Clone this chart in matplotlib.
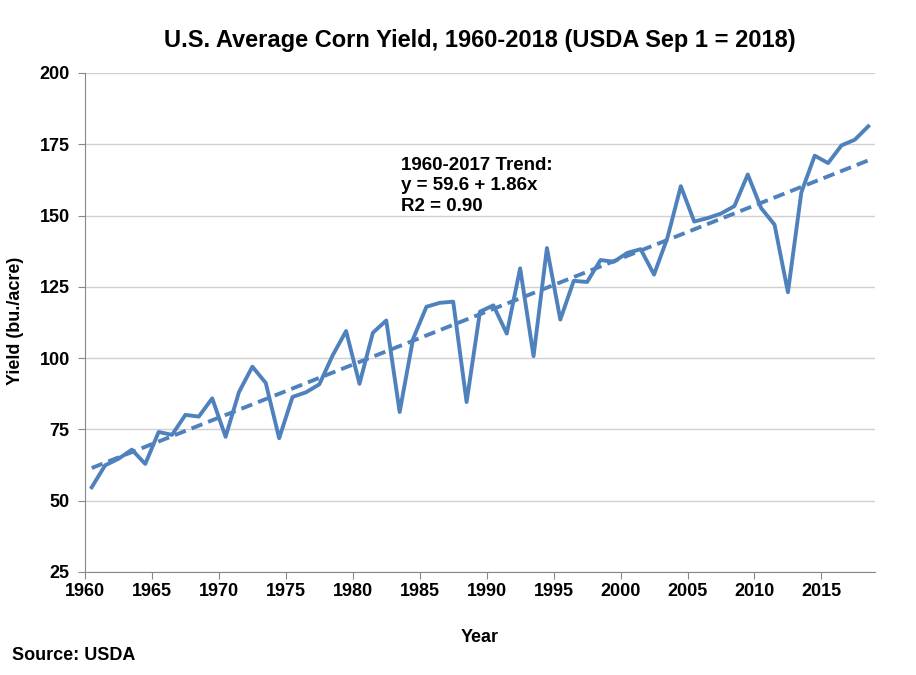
import matplotlib
matplotlib.use("Agg")
import matplotlib.pyplot as plt
import numpy as np

plt.rcParams['font.family'] = ['Liberation Sans', 'DejaVu Sans']
plt.rcParams['font.weight'] = 'bold'

# US corn yield, bu/acre
years = np.arange(1960, 2019)
yields = [54.7, 62.4, 64.7, 67.9, 62.9, 74.1, 73.1, 80.1, 79.5, 85.9,
          72.4, 88.1, 97.0, 91.3, 71.9, 86.4, 88.0, 90.8, 101.0, 109.5,
          91.0, 108.9, 113.2, 81.1, 106.7, 118.0, 119.4, 119.8, 84.6, 116.3,
          118.5, 108.6, 131.5, 100.7, 138.6, 113.5, 127.1, 126.7, 134.4, 133.8,
          136.9, 138.2, 129.3, 142.2, 160.3, 147.9, 149.1, 150.7, 153.3, 164.4,
          152.6, 146.8, 123.1, 158.1, 171.0, 168.4, 174.6, 176.6, 181.3]
trend_a = 59.6
trend_b = 1.86
xticks = list(range(1960, 2020, 5))
yticks = [25, 50, 75, 100, 125, 150, 175, 200]

blue = '#4F81BD'

fig = plt.figure(figsize=(9.16, 6.75), dpi=100)
ax = fig.add_axes([0.0928, 0.1526, 0.8624, 0.7393])

# excel draws the points in the middle of each year slot
xpos = years + 0.5
trend = trend_a + trend_b * (years - 1959)
ax.plot(xpos, trend, color=blue, lw=2.8, ls=(0, (3.0, 1.6)))
ax.plot(xpos, yields, color=blue, lw=2.8)

ax.set_xlim(1960, 2019)
ax.set_ylim(25, 200)
ax.set_xticks(xticks)
ax.set_yticks(yticks)
ax.tick_params(axis='both', labelsize=13, colors='#888888', labelcolor='black', length=5)
ax.tick_params(axis='y', pad=6)
ax.tick_params(axis='x', pad=3)
for lbl in ax.get_xticklabels() + ax.get_yticklabels():
    lbl.set_fontweight('bold')
ax.grid(axis='y', color='#d0d0d0', lw=1)
ax.set_axisbelow(True)
for s in ['top', 'right']:
    ax.spines[s].set_visible(False)
for s in ['left', 'bottom']:
    ax.spines[s].set_color('#888888')

ax.text(1983.6, 170.6, '1960-2017 Trend:\ny = 59.6 + 1.86x\nR2 = 0.90',
        fontsize=13.5, fontweight='bold', va='top', ha='left', linespacing=1.27)

fig.text(0.524, 0.930, 'U.S. Average Corn Yield, 1960-2018 (USDA Sep 1 = 2018)',
         fontsize=17, fontweight='bold', ha='center', va='baseline')
fig.text(0.524, 0.055, 'Year', fontsize=13, fontweight='bold', ha='center', va='center')
fig.text(0.017, 0.525, 'Yield (bu./acre)', fontsize=13, fontweight='bold',
         ha='center', va='center', rotation=90)
fig.text(0.013, 0.029, 'Source: USDA', fontsize=13, fontweight='bold', ha='left', va='center')

fig.savefig('out.png', dpi=100)
